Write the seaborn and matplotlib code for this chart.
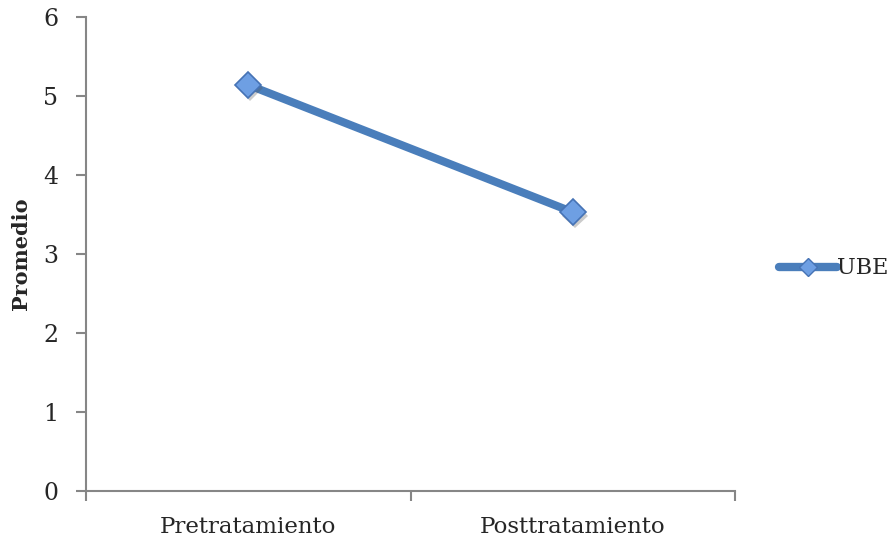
import matplotlib
matplotlib.use("Agg")
import matplotlib.pyplot as plt
import matplotlib.patheffects as pe
from matplotlib.lines import Line2D
import seaborn as sns
import pandas as pd

categories = ["Pretratamiento", "Posttratamiento"]
ube_values = [5.14, 3.53]
y_ticks = [0, 1, 2, 3, 4, 5, 6]
series_name = "UBE"
y_label = "Promedio"

sns.set_theme(style="white")
plt.rcParams["font.family"] = ["DejaVu Serif"]

df = pd.DataFrame({"cat": categories, "val": ube_values, "serie": series_name})
df["pos"] = range(len(categories))

fig = plt.figure(figsize=(8.91, 5.4), dpi=100)
ax = fig.add_axes([0.0965, 0.0907, 0.7285, 0.8778])

line_color = "#4A7EBB"
face_color = "#6E9FE3"
edge_color = "#4673B5"
sns.lineplot(data=df, x="pos", y="val", ax=ax, color=line_color, linewidth=5.8,
             solid_capstyle="butt", legend=False, zorder=2)
# diamond markers with a soft drop shadow
ax.plot(df["pos"], df["val"], linestyle="none", marker="D", markersize=13,
        markerfacecolor=face_color, markeredgecolor=edge_color, markeredgewidth=1.2,
        zorder=3,
        path_effects=[pe.SimplePatchShadow(offset=(1.5, -2.5), alpha=0.3, shadow_rgbFace="#555555"),
                      pe.Normal()])

ax.set_xlim(-0.5, len(categories) - 0.5)
ax.set_ylim(0, 6)
ax.set_yticks(y_ticks)
ax.set_yticklabels([str(t) for t in y_ticks], fontsize=17)

# category boundaries as major ticks, labels centered on categories
ax.set_xticks([-0.5, 0.5, 1.5])
ax.set_xticklabels([])
ax.set_xticks(df["pos"], minor=True)
ax.set_xticklabels(categories, minor=True, fontsize=16.5)
ax.tick_params(axis="x", which="minor", length=0, pad=18)
ax.tick_params(axis="x", which="major", length=7, width=1.5, color="#868686", direction="out", bottom=True)
ax.tick_params(axis="y", length=7, width=1.5, color="#868686", direction="out", left=True, pad=13)

for side in ["top", "right"]:
    ax.spines[side].set_visible(False)
for side in ["left", "bottom"]:
    ax.spines[side].set_color("#868686")
    ax.spines[side].set_linewidth(1.5)

ax.set_xlabel("")
ax.set_ylabel(y_label, fontsize=15, fontweight="bold", labelpad=9)

# legend entry
handle = Line2D([], [], color=line_color, linewidth=6, marker="D", markersize=9,
                markerfacecolor=face_color, markeredgecolor=edge_color)
fig.legend([handle], [series_name], loc="center left", bbox_to_anchor=(0.874, 0.503),
           frameon=False, fontsize=16, handlelength=2.6, handletextpad=0.0,
           borderaxespad=0, borderpad=0)

fig.savefig("out.png", dpi=100, facecolor="white")
